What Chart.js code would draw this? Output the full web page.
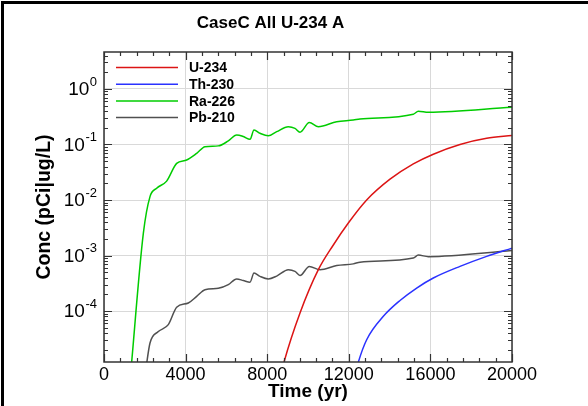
<!DOCTYPE html>
<html>
<head>
<meta charset="utf-8">
<script src="https://cdn.jsdelivr.net/npm/chart.js@4.4.1/dist/chart.umd.min.js"></script>
<style>
  body { margin: 0; background: #fff; }
  #wrap { position: relative; width: 588px; height: 406px; overflow: hidden; }
  #frame { position: absolute; left: 1px; top: 1px; width: 600px; height: 420px;
           border-left: 3px solid #000; border-top: 3px solid #000; pointer-events: none; }
</style>
</head>
<body>
<div id="wrap">
  <canvas id="concChart" width="588" height="406"></canvas>
  <div id="frame"></div>
</div>
<script>
const FONT = "'Liberation Sans', Arial, Helvetica, sans-serif";

// series names and colours
const seriesNames = ['U-234', 'Th-230', 'Ra-226', 'Pb-210'];
const seriesColors = ['#dc1414', '#2a32ff', '#00cc00', '#505050'];

// U-234 (red)
const u234Time = [8600, 8823, 9608, 10507, 11242, 11977, 12876, 14020, 15163, 16143, 17451, 18758, 20000];
const u234Conc = [5.5e-6, 1.2e-5, 9.23e-5, 5.56e-4, 1.55e-3, 3.85e-3, 0.0100, 0.0237, 0.0447, 0.0668, 0.100, 0.129, 0.145];

// Th-230 (blue)
const th230Time = [12200, 12466, 12876, 13693, 14510, 15327, 16143, 17451, 18758, 20000];
const th230Conc = [5.0e-6, 1.2e-5, 3.05e-5, 8.04e-5, 1.55e-4, 2.60e-4, 3.94e-4, 6.38e-4, 9.66e-4, 1.36e-3];

// Ra-226 (green)
const ra226Time = [1300, 1928, 2255, 2582, 3072, 3562, 4052, 4543, 4951, 5603, 6094, 6503, 6830, 7157, 7353, 7647,
  8054, 8466, 9035, 9362, 9608, 10066, 10507, 11407, 12221, 12548, 15163, 15408, 15900, 20000];
const ra226Conc = [7.0e-6, 2.5e-3, 0.0115, 0.0163, 0.0219, 0.0457, 0.0525, 0.0692, 0.0912, 0.0944, 0.116, 0.148, 0.139, 0.124, 0.182, 0.159,
  0.143, 0.170, 0.209, 0.195, 0.166, 0.248, 0.209, 0.257, 0.275, 0.288, 0.351, 0.398, 0.380, 0.468];

// Pb-210 (grey)
const pb210Time = [2040, 2255, 2663, 3153, 3562, 4134, 4543, 4951, 5603, 6094, 6503, 6830, 7157, 7353, 7647,
  8054, 8466, 9035, 9362, 9608, 10066, 10590, 11407, 12221, 12548, 15163, 15408, 15900, 20000];
const pb210Conc = [8.5e-6, 2.66e-5, 4.27e-5, 5.69e-5, 1.17e-4, 1.40e-4, 1.84e-4, 2.43e-4, 2.57e-4, 2.99e-4, 3.80e-4, 3.55e-4, 3.31e-4, 4.84e-4, 4.22e-4,
  3.80e-4, 4.27e-4, 5.56e-4, 5.19e-4, 4.37e-4, 6.37e-4, 5.56e-4, 6.61e-4, 7.08e-4, 7.59e-4, 9.02e-4, 1.02e-3, 9.55e-4, 1.23e-3];

// axis ranges and tick labels
const xMin = 0, xMax = 20000, xStep = 4000, xMinorStep = 800;
const yMin = 1.21e-5, yMax = 4.63;
const yDecades = [0, -1, -2, -3, -4];

const seriesTimes = [u234Time, th230Time, ra226Time, pb210Time];
const seriesConcs = [u234Conc, th230Conc, ra226Conc, pb210Conc];

function toPoints(times, concs) {
  return times.map((t, i) => ({ x: t, y: concs[i] }));
}

// inward ticks, plot frame, y labels with exponents, legend
const decorPlugin = {
  id: 'decor',
  afterDatasetsDraw(chart) {
    const ctx = chart.ctx;
    const area = chart.chartArea;
    const xs = chart.scales.x;
    const ys = chart.scales.y;
    ctx.save();
    ctx.strokeStyle = '#333';
    ctx.lineWidth = 1.2;
    ctx.beginPath();
    for (let t = xMin; t <= xMax; t += xMinorStep) {
      const px = Math.round(xs.getPixelForValue(t)) + 0.5;
      const len = t % xStep === 0 ? 8 : 4;
      ctx.moveTo(px, area.bottom); ctx.lineTo(px, area.bottom - len);
      ctx.moveTo(px, area.top); ctx.lineTo(px, area.top + len);
    }
    for (let k = -5; k <= 0; k++) {
      for (let m = 1; m <= 9; m++) {
        const v = m * Math.pow(10, k);
        if (v < yMin || v > yMax) continue;
        const py = Math.round(ys.getPixelForValue(v)) + 0.5;
        const len = m === 1 ? 8 : 4;
        ctx.moveTo(area.left, py); ctx.lineTo(area.left + len, py);
        ctx.moveTo(area.right, py); ctx.lineTo(area.right - len, py);
      }
    }
    ctx.stroke();
    ctx.lineWidth = 1.5;
    ctx.strokeRect(area.left, area.top, area.right - area.left, area.bottom - area.top);

    // y tick labels 10^k
    ctx.fillStyle = '#000';
    yDecades.forEach(k => {
      const py = ys.getPixelForValue(Math.pow(10, k));
      const exp = String(k);
      ctx.font = '13px ' + FONT;
      ctx.textAlign = 'right';
      ctx.textBaseline = 'middle';
      const ew = ctx.measureText(exp).width;
      ctx.fillText(exp, area.left - 7, py - 7);
      ctx.font = '19px ' + FONT;
      ctx.fillText('10', area.left - 7 - ew - 0.5, py + 1);
    });

    // legend
    ctx.font = 'bold 14px ' + FONT;
    ctx.textAlign = 'left';
    ctx.textBaseline = 'middle';
    seriesNames.forEach((name, i) => {
      const ly = 67.5 + i * 16.7;
      ctx.strokeStyle = seriesColors[i];
      ctx.lineWidth = 1.5;
      ctx.beginPath();
      ctx.moveTo(area.left + 12, ly);
      ctx.lineTo(area.left + 74, ly);
      ctx.stroke();
      ctx.fillStyle = '#000';
      ctx.fillText(name, area.left + 85, ly + 1);
    });
    ctx.restore();
  }
};

const chart = new Chart(document.getElementById('concChart'), {
  type: 'line',
  data: {
    datasets: seriesNames.map((name, i) => ({
      label: name,
      data: toPoints(seriesTimes[i], seriesConcs[i]),
      borderColor: seriesColors[i],
      borderWidth: 1.5,
      pointRadius: 0,
      cubicInterpolationMode: 'monotone',
      fill: false
    }))
  },
  options: {
    responsive: false,
    animation: false,
    devicePixelRatio: 1,
    layout: { padding: { left: 29, right: 76, top: 0, bottom: 0 } },
    plugins: {
      legend: { display: false },
      tooltip: { enabled: false },
      title: {
        display: true,
        text: 'CaseC All U-234 A',
        color: '#000',
        font: { family: FONT, size: 17, weight: 'bold' },
        padding: { top: 13, bottom: 18.6 }
      }
    },
    scales: {
      x: {
        type: 'linear',
        min: xMin,
        max: xMax,
        ticks: {
          stepSize: xStep,
          color: '#000',
          padding: 2,
          font: { family: FONT, size: 18 },
          callback: v => String(v)
        },
        grid: { color: '#d9d9d9', drawTicks: false },
        border: { display: false },
        title: {
          display: true,
          text: 'Time (yr)',
          color: '#000',
          font: { family: FONT, size: 19, weight: 'bold' },
          padding: { top: 4, bottom: 3 }
        },
        afterFit: s => { s.height = 44; }
      },
      y: {
        type: 'logarithmic',
        min: yMin,
        max: yMax,
        afterBuildTicks: s => { s.ticks = yDecades.map(k => ({ value: Math.pow(10, k) })); },
        ticks: { display: false },
        grid: { color: '#d9d9d9', drawTicks: false },
        border: { display: false },
        title: {
          display: true,
          text: 'Conc (pCi|ug/L)',
          color: '#000',
          font: { family: FONT, size: 19.5, weight: 'bold' },
          padding: { top: 4, bottom: 4 }
        },
        afterFit: s => { s.width = 75; }
      }
    }
  },
  plugins: [decorPlugin]
});
</script>
</body>
</html>
